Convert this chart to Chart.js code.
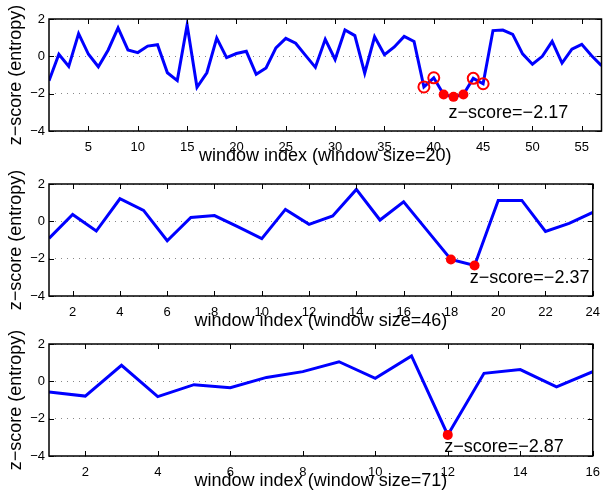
<!DOCTYPE html>
<html>
<head>
<meta charset="utf-8">
<script src="https://cdn.jsdelivr.net/npm/chart.js@4"></script>
<style>
  body { margin: 0; background: #fff; }
  canvas { position: absolute; left: 0; }
</style>
</head>
<body>
<canvas id="c1" width="609" height="167" style="top:0px"></canvas>
<canvas id="c2" width="609" height="167" style="top:165px"></canvas>
<canvas id="c3" width="609" height="167" style="top:325px"></canvas>
<script>
// z-score of entropy per window, three window sizes
const win20 = [-1.31, 0.11, -0.54, 1.22, 0.11, -0.56, 0.34, 1.52, 0.34, 0.20,
  0.55, 0.62, -0.88, -1.30, 1.68, -1.66, -0.88, 0.98, -0.07, 0.15,
  0.27, -0.96, -0.62, 0.45, 0.96, 0.70, 0.05, -0.59, 0.91, -0.17,
  1.41, 1.11, -0.90, 1.05, 0.09, 0.50, 1.07, 0.80, -1.64, -1.15,
  -2.04, -2.17, -2.04, -1.18, -1.47, 1.38, 1.41, 1.18, 0.13, -0.42,
  0.00, 0.80, -0.36, 0.38, 0.64, 0.03, -0.50];
const win46 = [-0.91, 0.37, -0.52, 1.21, 0.59, -1.04, 0.21, 0.31, -0.30, -0.93,
  0.64, -0.16, 0.29, 1.71, 0.07, 1.04, -0.50, -2.04, -2.37, 1.12,
  1.12, -0.54, -0.11, 0.48];
const win71 = [-0.57, -0.79, 0.86, -0.82, -0.18, -0.34, 0.21, 0.52, 1.05, 0.16,
  1.36, -2.87, 0.43, 0.63, -0.30, 0.52];

// marked windows (1-based)
const filled20 = [41, 42, 43];
const hollow20 = [39, 40, 44, 45];
const filled46 = [18, 19];
const filled71 = [12];

const ticks20 = [5, 10, 15, 20, 25, 30, 35, 40, 45, 50, 55];
const ticks46 = [2, 4, 6, 8, 10, 12, 14, 16, 18, 20, 22, 24];
const ticks71 = [2, 4, 6, 8, 10, 12, 14, 16];
const yTicks = [-4, -2, 0, 2];

Chart.defaults.font.family = '"Liberation Sans", Arial, sans-serif';
Chart.defaults.color = '#000';

const minus = v => String(v).replace('-', '\u2212');

// matlab-like box with inward ticks + the z-score note
const framePlugin = {
  id: 'frame',
  afterDraw(chart, args, opts) {
    const {ctx, chartArea: a, scales: {x, y}} = chart;
    ctx.save();
    ctx.strokeStyle = '#000';
    ctx.lineWidth = 1;
    ctx.beginPath();
    x.ticks.forEach(t => {
      const px = Math.round(x.getPixelForValue(t.value)) + 0.5;
      ctx.moveTo(px, a.bottom); ctx.lineTo(px, a.bottom - 5);
      ctx.moveTo(px, a.top); ctx.lineTo(px, a.top + 5);
    });
    y.ticks.forEach(t => {
      const py = Math.round(y.getPixelForValue(t.value)) + 0.5;
      ctx.moveTo(a.left, py); ctx.lineTo(a.left + 5, py);
      ctx.moveTo(a.right, py); ctx.lineTo(a.right - 5, py);
    });
    ctx.stroke();
    ctx.lineWidth = 1.5;
    ctx.strokeRect(a.left, a.top, a.right - a.left, a.bottom - a.top);
    if (opts.note) {
      ctx.fillStyle = '#000';
      ctx.font = '18px "Liberation Sans", Arial, sans-serif';
      ctx.textAlign = 'left';
      ctx.textBaseline = 'middle';
      ctx.fillText(opts.note.text, x.getPixelForValue(opts.note.x), y.getPixelForValue(opts.note.y));
    }
    ctx.restore();
  }
};

function makePanel(id, values, xTicks, filled, hollow, xTitle, note) {
  const line = values.map((v, i) => ({x: i + 1, y: v}));
  const pick = idx => idx.map(k => ({x: k, y: values[k - 1]}));
  return new Chart(document.getElementById(id), {
    type: 'line',
    data: {
      datasets: [
        {data: line, borderColor: '#0000ff', borderWidth: 3, pointRadius: 0, tension: 0, order: 3},
        {data: pick(hollow), showLine: false, pointRadius: 5.5, pointBorderWidth: 2,
          pointBorderColor: '#ff0000', pointBackgroundColor: 'rgba(0,0,0,0)', order: 2},
        {data: pick(filled), showLine: false, pointRadius: 5, pointBorderWidth: 0,
          pointBackgroundColor: '#ff0000', pointBorderColor: '#ff0000', order: 1}
      ]
    },
    options: {
      responsive: false,
      animation: false,
      layout: {padding: {top: 19, right: 7, left: 0, bottom: 0}},
      plugins: {legend: {display: false}, tooltip: {enabled: false}, frame: {note: note}},
      scales: {
        x: {
          type: 'linear', min: 1, max: values.length,
          afterBuildTicks: s => { s.ticks = xTicks.map(v => ({value: v})); },
          afterFit: s => { s.height = 36; },
          grid: {display: false, drawTicks: false},
          border: {display: false},
          ticks: {padding: 9, autoSkip: false, maxRotation: 0, font: {size: 13}},
          title: {display: true, text: xTitle, font: {size: 18}, padding: {top: 0, bottom: 0}}
        },
        y: {
          min: -4, max: 2,
          afterBuildTicks: s => { s.ticks = yTicks.map(v => ({value: v})); },
          afterFit: s => { s.width = 49; },
          grid: {color: '#888', lineWidth: 1, drawTicks: false},
          border: {display: false, dash: [1, 5]},
          ticks: {padding: 4, font: {size: 13}, callback: v => minus(v)},
          title: {display: true, text: 'z\u2212score (entropy)', font: {size: 18}, padding: {top: 5, bottom: 0}}
        }
      }
    },
    plugins: [framePlugin]
  });
}

makePanel('c1', win20, ticks20, filled20, hollow20, 'window index (window size=20)',
  {text: 'z\u2212score=\u22122.17', x: 41.5, y: -3.04});
makePanel('c2', win46, ticks46, filled46, [], 'window index (window size=46)',
  {text: 'z\u2212score=\u22122.37', x: 18.8, y: -3.04});
makePanel('c3', win71, ticks71, filled71, [], 'window index (window size=71)',
  {text: 'z\u2212score=\u22122.87', x: 11.9, y: -3.52});
</script>
</body>
</html>
